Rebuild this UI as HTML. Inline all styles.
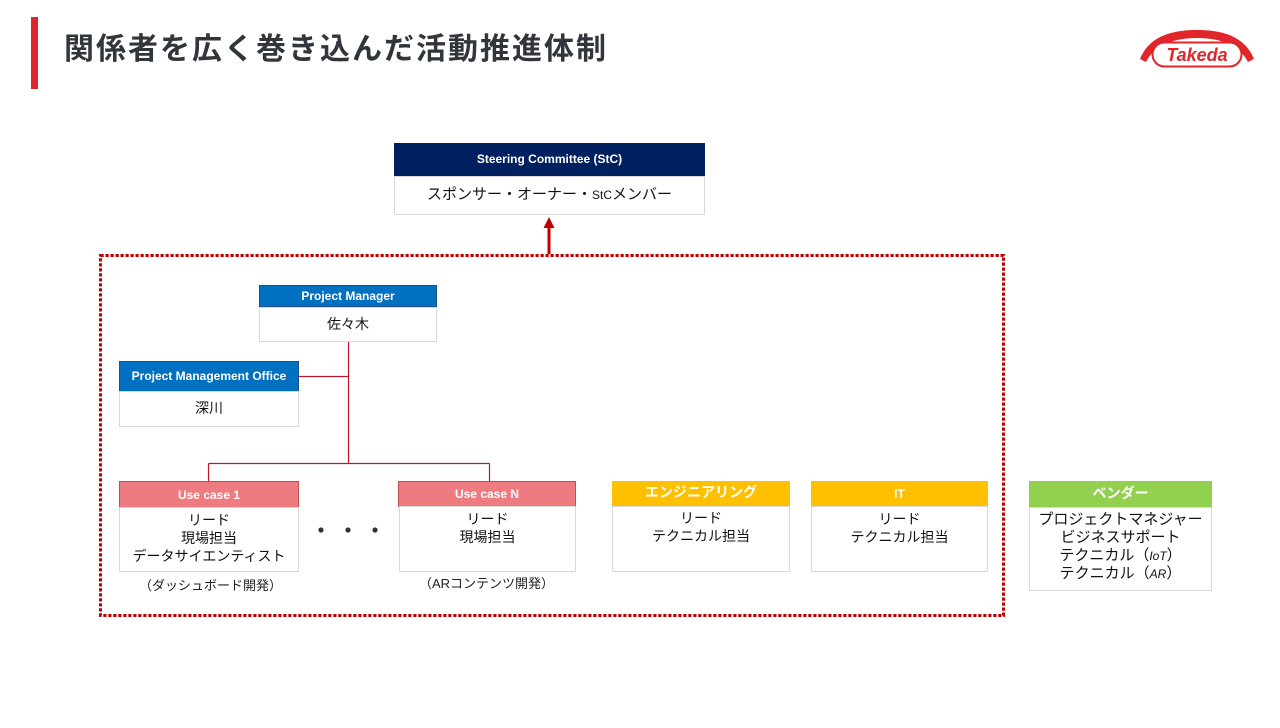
<!DOCTYPE html>
<html><head><meta charset="utf-8">
<style>
html,body{margin:0;padding:0;background:#fff;}
body{width:1280px;height:728px;position:relative;overflow:hidden;font-family:"Liberation Sans","Noto Sans CJK JP",sans-serif;}
.a{position:absolute;box-sizing:border-box;}
.hd{position:absolute;box-sizing:border-box;color:#fff;font-weight:bold;font-size:12px;text-align:center;font-family:"Liberation Sans","Noto Sans CJK JP",sans-serif;}
.bd{position:absolute;box-sizing:border-box;background:#fff;border:1px solid #d9d9d9;color:#111;text-align:center;font-size:14px;line-height:18px;font-family:"Liberation Sans","Noto Sans CJK JP",sans-serif;}
.cap{position:absolute;font-size:13px;color:#222;white-space:nowrap;font-family:"Liberation Sans","Noto Sans CJK JP",sans-serif;}
</style></head><body>
<div class="a" style="left:31px;top:17px;width:7px;height:72px;background:#e0262b;"></div>
<div class="a" style="left:64px;top:30px;font-size:30px;font-weight:bold;color:#30363c;letter-spacing:2px;line-height:40px;white-space:nowrap;font-family:'Liberation Sans','Noto Sans CJK JP',sans-serif;">関係者を広く巻き込んだ活動推進体制</div>

<!-- logo -->
<svg class="a" style="left:1136px;top:26px;" width="122" height="46" viewBox="0 0 122 46">
  <path d="M4 33 C14 8 40 4 61 4 C82 4 108 8 118 33 L112 36 C104 20 86 12 61 12 C36 12 18 20 10 36 Z" fill="#e0262b"/>
  <rect x="16.5" y="16.5" width="89" height="24" rx="12" ry="12" fill="#fff" stroke="#e0262b" stroke-width="2"/>
  <text x="61" y="35" text-anchor="middle" font-family="Liberation Sans, sans-serif" font-style="italic" font-weight="bold" font-size="18" fill="#e0262b">Takeda</text>
</svg>

<svg class="a" style="left:0;top:0;" width="1280" height="728">
  <rect x="100.5" y="255.5" width="903" height="360" fill="none" stroke="#c00000" stroke-width="3" stroke-dasharray="3.2,1.8"/>
  <line x1="549" y1="254" x2="549" y2="226" stroke="#c00000" stroke-width="3"/>
  <polygon points="549,217 543.5,228 554.5,228" fill="#c00000"/>
  <g stroke="#c0142a" stroke-width="1.2" fill="none">
    <line x1="348.5" y1="341" x2="348.5" y2="463.5"/>
    <line x1="298" y1="376.5" x2="348.5" y2="376.5"/>
    <line x1="208.5" y1="463.5" x2="489.5" y2="463.5"/>
    <line x1="208.5" y1="463.5" x2="208.5" y2="481"/>
    <line x1="489.5" y1="463.5" x2="489.5" y2="481"/>
  </g>
  <circle cx="321" cy="530" r="2.6" fill="#333"/>
  <circle cx="348" cy="530" r="2.6" fill="#333"/>
  <circle cx="375" cy="530" r="2.6" fill="#333"/>
</svg>

<!-- StC -->
<div class="hd" style="left:394px;top:143px;width:311px;height:33px;background:#002060;line-height:33px;">Steering Committee (StC)</div>
<div class="bd" style="left:394px;top:176px;width:311px;height:39px;line-height:36px;font-size:15px;">スポンサー・オーナー・<span style="font-size:12px">StC</span>メンバー</div>

<!-- PM -->
<div class="hd" style="left:259px;top:285px;width:178px;height:22px;background:#0070c0;border:1px solid #1f4e8c;line-height:20px;">Project Manager</div>
<div class="bd" style="left:259px;top:307px;width:178px;height:35px;line-height:32px;">佐々木</div>

<!-- PMO -->
<div class="hd" style="left:119px;top:361px;width:180px;height:31px;background:#0070c0;border:1px solid #1f4e8c;line-height:29px;">Project Management Office</div>
<div class="bd" style="left:119px;top:391px;width:180px;height:36px;line-height:33px;">深川</div>

<!-- Use case 1 -->
<div class="hd" style="left:119px;top:481px;width:180px;height:27px;background:#ee7b80;border:1px solid #c0504d;line-height:26px;">Use case 1</div>
<div class="bd" style="left:119px;top:507px;width:180px;height:65px;padding-top:3px;">リード<br>現場担当<br>データサイエンティスト</div>
<div class="cap" style="left:139px;top:575px;">（ダッシュボード開発）</div>

<!-- Use case N -->
<div class="hd" style="left:398px;top:481px;width:178px;height:26px;background:#ee7b80;border:1px solid #c0504d;line-height:25px;">Use case N</div>
<div class="bd" style="left:399px;top:506px;width:177px;height:66px;padding-top:3px;">リード<br>現場担当</div>
<div class="cap" style="left:419px;top:573px;">（ARコンテンツ開発）</div>

<!-- Engineering -->
<div class="hd" style="left:612px;top:481px;width:178px;height:26px;background:#ffc000;line-height:22px;font-size:14px;">エンジニアリング</div>
<div class="bd" style="left:612px;top:506px;width:178px;height:66px;padding-top:2px;">リード<br>テクニカル担当</div>

<!-- IT -->
<div class="hd" style="left:811px;top:481px;width:177px;height:26px;background:#ffc000;line-height:27px;">IT</div>
<div class="bd" style="left:811px;top:506px;width:177px;height:66px;padding-top:3px;">リード<br>テクニカル担当</div>

<!-- Vendor -->
<div class="hd" style="left:1029px;top:481px;width:183px;height:27px;background:#92d050;line-height:25px;font-size:14px;">ベンダー</div>
<div class="bd" style="left:1029px;top:507px;width:183px;height:84px;padding-top:3px;font-size:15px;">プロジェクトマネジャー<br>ビジネスサポート<br>テクニカル（<i style="font-size:12px">IoT</i>）<br>テクニカル（<i style="font-size:12px">AR</i>）</div>
</body></html>
